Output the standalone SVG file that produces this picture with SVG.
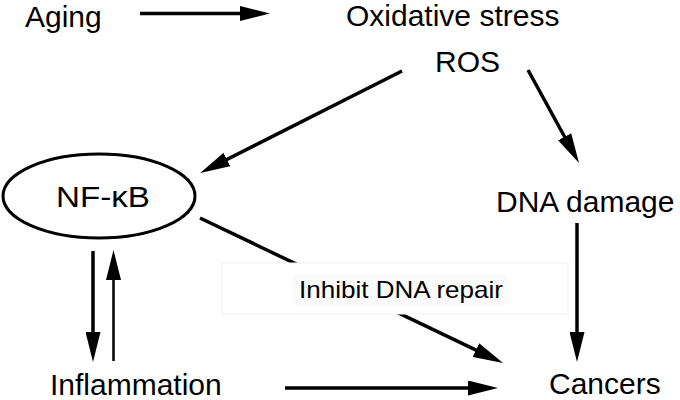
<svg xmlns="http://www.w3.org/2000/svg" width="680" height="400" viewBox="0 0 680 400">
<style>
text{font-family:"Liberation Sans",Arial,sans-serif;fill:#000}
.lbl{font-size:30px}
.ln{stroke:#000;stroke-width:3.5;fill:none}
.thin{stroke:#000;stroke-width:2.5;fill:none}
</style>
<defs>
<marker id="ah" markerUnits="userSpaceOnUse" markerWidth="30" markerHeight="15" refX="10" refY="7.5" orient="auto" viewBox="0 0 30 15">
<path d="M0,0 L30,7.5 L0,15 Z" fill="#000"/>
</marker>
</defs>
<rect width="680" height="400" fill="#fff"/>
<g id="connectors">
<line class="ln" x1="140" y1="13.5" x2="250" y2="13.5" marker-end="url(#ah)"/>
<line class="ln" x1="402" y1="71" x2="218" y2="164" marker-end="url(#ah)"/>
<line class="ln" x1="528" y1="70" x2="569.4" y2="145.5" marker-end="url(#ah)"/>
<line class="ln" x1="200" y1="218" x2="485" y2="354.4" marker-end="url(#ah)"/>
<line class="ln" x1="577" y1="223" x2="577" y2="342" marker-end="url(#ah)"/>
<line class="ln" x1="93" y1="251" x2="93" y2="342" marker-end="url(#ah)"/>
<line class="thin" x1="113.5" y1="361" x2="113.5" y2="270" marker-end="url(#ah)"/>
<line class="ln" x1="285" y1="388" x2="478" y2="388" marker-end="url(#ah)"/>
</g>
<g id="aging"><text class="lbl" x="25" y="27">Aging</text></g>
<g id="oxidative"><text class="lbl" x="346" y="26">Oxidative stress</text></g>
<g id="ros"><text class="lbl" x="435" y="72">ROS</text></g>
<g id="nfkb">
<ellipse cx="99" cy="196" rx="96" ry="42" fill="#fff" stroke="#000" stroke-width="3"/>
<text x="56" y="207" font-size="29" textLength="94" lengthAdjust="spacingAndGlyphs">NF-κB</text>
</g>
<g id="dna-damage"><text class="lbl" x="496" y="212">DNA damage</text></g>
<g id="inhibit">
<rect x="222" y="263" width="346" height="51" fill="#fff" stroke="#f0f0f0" stroke-width="1"/>
<rect x="293" y="274" width="214" height="31" fill="#fafafa"/>
<text x="299" y="298" font-size="24" textLength="204" lengthAdjust="spacingAndGlyphs">Inhibit DNA repair</text>
</g>
<g id="inflammation"><text class="lbl" x="50" y="395">Inflammation</text></g>
<g id="cancers"><text class="lbl" x="549" y="394">Cancers</text></g>
</svg>
